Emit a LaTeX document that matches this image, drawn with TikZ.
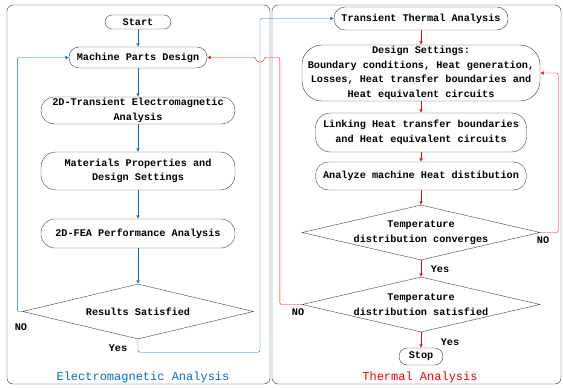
\documentclass[tikz,border=0pt]{standalone}
\usepackage{fontspec}
\setmonofont{Liberation Mono}
\usetikzlibrary{arrows.meta,shapes.geometric}
\definecolor{emblue}{RGB}{0,112,192}
\definecolor{thred}{RGB}{255,0,0}

\begin{document}
\begin{tikzpicture}[x=1pt, y=-1pt,
	every node/.style={font=\fontsize{10.2}{14.5}\selectfont\ttfamily\bfseries},
	>={Latex[length=3.5pt, width=3.5pt]},
	proc/.style={draw=black!75, rounded corners=12pt, align=center, inner sep=0pt},
	pill/.style={draw=black!75, align=center, inner sep=0pt},
	test/.style={draw=black!75, diamond, aspect=4.3, align=center, inner sep=0pt},
	emline/.style={emblue, ->, rounded corners=2pt},
	thline/.style={thred, ->, rounded corners=2pt},
	panel/.style={draw=black!80, rounded corners=6pt},
	paneltitle/.style={font=\fontsize{12}{14}\selectfont\ttfamily}]
	\useasboundingbox (0,0) rectangle (563,388);
	% the two panels
	\draw[panel] (7,5) rectangle (270,384);
	\draw[panel] (272,5) rectangle (561,384);
	\node[paneltitle, emblue] (emtitle) at (143,377) {Electromagnetic Analysis};
	\node[paneltitle, thred] (thtitle) at (420,377) {Thermal Analysis};
	% electromagnetic side
	\node[pill, rounded corners=7pt, minimum width=66pt, minimum height=14pt] (start) at (138,22) {Start};
	\node[pill, rounded corners=10pt, minimum width=138pt, minimum height=21pt] (mpd) at (138,57.5) {Machine Parts Design};
	\node[proc, rounded corners=13pt, minimum width=194pt, minimum height=27pt] (tem) at (138,110.5) {2D-Transient Electromagnetic\\Analysis};
	\node[proc, rounded corners=15pt, minimum width=194pt, minimum height=38pt] (mat) at (138,171) {Materials Properties and\\Design Settings};
	\node[proc, rounded corners=14pt, minimum width=194pt, minimum height=29pt] (fea) at (138,233.5) {2D-FEA Performance Analysis};
	\node[test, minimum width=231pt, minimum height=55pt] (res) at (138,311.5) {Results Satisfied};
	\node (resno) at (21,327) {NO};
	\node (resyes) at (118,348) {Yes};
	% thermal side
	\node[pill, rounded corners=11pt, minimum width=174pt, minimum height=23pt] (tta) at (421,18.5) {Transient Thermal Analysis};
	\node[proc, rounded corners=20pt, minimum width=238pt, minimum height=56pt] (ds) at (421,73) {Design Settings:\\Boundary conditions, Heat generation,\\Losses, Heat transfer boundaries and\\Heat equivalent circuits};
	\node[proc, rounded corners=15pt, minimum width=211pt, minimum height=39pt] (link) at (421,132.5) {Linking Heat transfer boundaries\\and Heat equivalent circuits};
	\node[proc, rounded corners=13pt, minimum width=211pt, minimum height=28pt] (heat) at (421,176) {Analyze machine Heat distibution};
	\node[test, minimum width=238pt, minimum height=55pt] (tdc) at (421,232.5) {Temperature\\distribution converges};
	\node[test, minimum width=238pt, minimum height=55pt] (tds) at (421,304.5) {Temperature\\distribution satisfied};
	\node[pill, rounded corners=8.5pt, minimum width=44pt, minimum height=17pt] (stop) at (421,356.5) {Stop};
	\node (tdcno) at (543,240) {NO};
	\node (tdcyes) at (440,269) {Yes};
	\node (tdsno) at (298,312) {NO};
	\node (tdsyes) at (450,342) {Yes};
	\coordinate (hop) at (260,57.5);
	% electromagnetic flow
	\draw[emline] (start) -- (mpd);
	\draw[emline] (mpd) -- (tem);
	\draw[emline] (tem) -- (mat);
	\draw[emline] (mat) -- (fea);
	\draw[emline] (fea) -- (res);
	\draw[emline] (res.west) -- ++(-5,0) |- (mpd.west);
	\draw[emline] (res.south) -- ++(0,13) -| (hop) |- (tta.west);
	% thermal flow
	\draw[thline] (tta) -- (ds);
	\draw[thline] (ds) -- (link);
	\draw[thline] (link) -- (heat);
	\draw[thline] (heat) -- (tdc);
	\draw[thline] (tdc) -- (tds);
	\draw[thline] (tds) -- (stop);
	\draw[thline] (tdc.east) -- ++(18,0) |- (ds.east);
	\draw[thline] (tds.west) -- ++(-22,0) |- ([xshift=4pt]hop)
		.. controls ([xshift=4pt, yshift=-5.5pt]hop) and ([xshift=-4pt, yshift=-5.5pt]hop) .. ([xshift=-4pt]hop)
		-- (mpd.east);
\end{tikzpicture}
\end{document}
